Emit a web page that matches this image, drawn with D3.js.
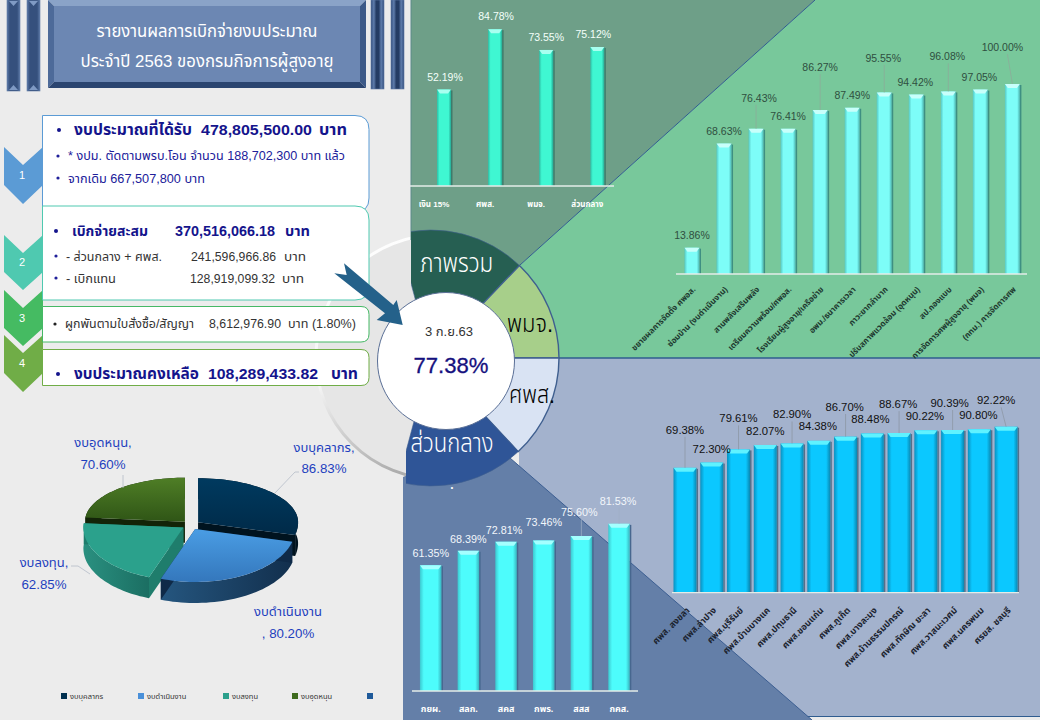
<!DOCTYPE html>
<html><head><meta charset="utf-8">
<script src="https://cdn.jsdelivr.net/npm/d3@7/dist/d3.min.js"></script>
<style>html,body{margin:0;padding:0;background:#ececec;overflow:hidden}svg{display:block}
text{font-family:"Liberation Sans","Noto Sans Thai","Noto Sans",sans-serif}</style>
</head><body><svg id="c" width="1040" height="720"></svg>
<script>
// ---------- data ----------
const titleLines = ["รายงานผลการเบิกจ่ายงบประมาณ","ประจำปี 2563 ของกรมกิจการผู้สูงอายุ"];
const overviewCats = ["เงิน 15%","ศพส.","พมจ.","ส่วนกลาง"];
const overviewVals = [52.19,84.78,73.55,75.12];
const provCats = ["ขยายผลการจัดตั้ง ศพอส.","ซ่อมบ้าน (งบดำเนินงาน)","สานพลังเสริมพลัง","เตรียมความพร้อม/ศพอส.","โรงเรียนผู้สูงอายุ/เครือข่าย","อพม./ธนาคารเวลา","ภาวะยากลำบาก","ปรับสภาพแวดล้อม (อุดหนุน)","สป.กองแบบ","การจัดการศพผู้สูงอายุ (พมจ)","(กทม.) การจัดการศพ"];
const provVals = [13.86,68.63,76.43,76.41,86.27,87.49,95.55,94.42,96.08,97.05,100.00];
const centerCats = ["ศพส. สงขลา","ศพส.ลำปาง","ศพส.บุรีรัมย์","ศพส.บ้านบางแค","ศพส.ปทุมธานี","ศพส.ขอนแก่น","ศพส.ภูเก็ต","ศพส.บางละมุง","ศพส.บ้านธรรมปกรณ์","ศพส.ทักษิณ ยะลา","ศพส.วาสนะเวศม์","ศพส.นครพนม","ศรยส. ชลบุรี"];
const centerVals = [69.38,72.30,79.61,82.07,82.90,84.38,86.70,88.48,88.67,90.22,90.39,90.80,92.22];
const deptCats = ["กยผ.","สลก.","สคส","กพร.","สสส","กคส."];
const deptVals = [61.35,68.39,72.81,73.46,75.60,81.53];
const pieCats = ["งบบุคลากร","งบดำเนินงาน","งบลงทุน","งบอุดหนุน"];
const pieVals = [86.83,80.20,62.85,70.60];
const wheelCats = ["ภาพรวม","พมจ.","ศพส.","ส่วนกลาง"];
const wheelDate = "3 ก.ย.63";
const wheelTotal = "77.38%";

// ---------- layout / style ----------
const svg = d3.select("#c");
const defs = svg.append("defs");
const fmt = v => v.toFixed(2)+"%";
function grad(id,stops,x2=1,y2=0){
  const g=defs.append("linearGradient").attr("id",id).attr("x1",0).attr("y1",0).attr("x2",x2).attr("y2",y2);
  stops.forEach(s=>g.append("stop").attr("offset",s[0]).attr("stop-color",s[1]));
  return `url(#${id})`;
}
// text fitted to a measured width
function T(p,s,x,y,o={}){
  const t=p.append("text").attr("x",x).attr("y",y).text(s)
    .attr("font-size",o.size||12).attr("fill",o.fill||"#000").attr("text-anchor",o.anchor||"start");
  if(o.weight)t.attr("font-weight",o.weight);
  if(o.width)t.attr("textLength",o.width).attr("lengthAdjust","spacingAndGlyphs");
  return t;
}
const bg = svg.append("g");
bg.append("rect").attr("width",1040).attr("height",720).attr("fill","#ececec");

// ring behind wheel
const ringStroke = grad("ringS",[[0,"#ffffff"],[.6,"#f4f4f4"],[1,"#adadad"]],.2,1);
bg.append("circle").attr("cx",438).attr("cy",357).attr("r",122).attr("fill","#e6e6e6").attr("stroke",ringStroke).attr("stroke-width",3);

// panels
const poly=(g,pts,fill,stroke)=>g.append("polygon").attr("points",pts.join(" ")).attr("fill",fill).attr("stroke",stroke||"none");
poly(bg,[[519,358],[1040,358],[1040,716],[519,716]],"#a3b2cd");
bg.append("line").attr("x1",519).attr("x2",1040).attr("y1",716.5).attr("y2",716.5).attr("stroke","#2f5c8f");
poly(bg,[[403,477],[450,458],[510,458],[812,720],[403,720]],"#647fa8");
bg.append("line").attr("x1",510).attr("y1",458).attr("x2",812).attr("y2",720).attr("stroke","#3d5f92");
poly(bg,[[520,265],[815,0],[1040,0],[1040,358],[540,358]],"#78c89b");
poly(bg,[[411,0],[815,0],[520,265],[411,265]],"#6e9f88");
bg.append("line").attr("x1",815).attr("y1",0).attr("x2",520).attr("y2",265).attr("stroke","#2f5c8f");
bg.append("line").attr("x1",540).attr("x2",1040).attr("y1",358).attr("y2",358).attr("stroke","#2f5c8f").attr("stroke-width",1.4);
bg.append("line").attr("x1",411).attr("x2",411).attr("y1",0).attr("y2",240).attr("stroke","#5b8a8a");

// title block
const colL = grad("colL",[[0,"#5d7aa8"],[.22,"#35507d"],[.78,"#35507d"],[1,"#5d7aa8"]]);
const colR = grad("colR",[[0,"#34507e"],[.22,"#5f7dac"],[.4,"#243c64"],[.6,"#243c64"],[.78,"#5f7dac"],[1,"#34507e"]]);
[[7,91,colL],[27,91,colL],[371,89,colR],[391,89,colR]].forEach(c=>{
  bg.append("rect").attr("x",c[0]).attr("y",0).attr("width",13).attr("height",c[1]).attr("fill",c[2]).attr("stroke","#5f7ba6").attr("stroke-width",.6);
  if(c[2]===colL){
    poly(bg,[[c[0]+2,1],[c[0]+11,1],[c[0]+6.5,6]],"#7f9ac4");
    poly(bg,[[c[0]+2,90],[c[0]+11,90],[c[0]+6.5,85]],"#7f9ac4");
  }
});
const tb = bg.append("g");
poly(tb,[[48,0],[366,0],[360,6],[54,6]],"#8aa3c8");
poly(tb,[[48,0],[54,6],[54,82],[48,88]],"#4d6a99");
poly(tb,[[366,0],[360,6],[360,82],[366,88]],"#3d5a88");
poly(tb,[[48,88],[54,82],[360,82],[366,88]],"#2b4570");
tb.append("rect").attr("x",54).attr("y",6).attr("width",306).attr("height",76).attr("fill","#6c87b3");
T(tb,titleLines[0],207,37,{size:17,fill:"#fff",anchor:"middle",width:221});
T(tb,titleLines[1],207,67,{size:17,fill:"#fff",anchor:"middle",width:253});

// chevrons and boxes
const chev=[["1","#5b9bd5",147,165,185,204,175],["2","#4fc9b0",235,253,272,290,262],["3","#45bb62",290,308,328,346,318],["4","#70ad47",335,353,373,392,363]];
chev.forEach(c=>{
  poly(bg,[[4,c[2]],[23,c[3]],[43,c[2]],[43,c[4]],[23,c[5]],[4,c[4]]],c[1]);
  T(bg,c[0],22,c[6]+4,{size:11,fill:"#fff",anchor:"middle"});
});
function box(y0,y1,stroke,r){
  bg.append("path").attr("d",`M42.5,${y0}H${369-r}Q369,${y0} 369,${y0+r}V${y1-r}Q369,${y1} ${369-r},${y1}H42.5Z`)
    .attr("fill","#fff").attr("stroke",stroke).attr("stroke-width",1);
}
box(115.5,212,"#5b9bd5",14); box(206,300,"#4fc9b0",14); box(306.5,342,"#45b865",8); box(349.5,385.5,"#70ad47",8);
const navy="#14148c", soft="#20209a", grey="#333";
const bullet=(x,y,f,r)=>bg.append("circle").attr("cx",x).attr("cy",y).attr("r",r||1.6).attr("fill",f);
bullet(59,130,navy,2);
T(bg,"งบประมาณที่ได้รับ",74,135,{size:15,fill:navy,weight:"bold",width:118});
T(bg,"478,805,500.00",201,135,{size:15,fill:navy,weight:"bold",width:111});
T(bg,"บาท",319,135,{size:15,fill:navy,weight:"bold",width:28});
bullet(58,156,soft); T(bg,"* งปม. ตัดตามพรบ.โอน จำนวน 188,702,300 บาท แล้ว",68,160,{size:12,fill:soft,width:277});
bullet(58,178,soft); T(bg,"จากเดิม 667,507,800 บาท",68,183,{size:12,fill:soft,width:137});
bullet(56,231,navy,2);
T(bg,"เบิกจ่ายสะสม",72,236,{size:14,fill:navy,weight:"bold",width:76});
T(bg,"370,516,066.18",175,236,{size:14,fill:navy,weight:"bold",width:100});
T(bg,"บาท",285,236,{size:14,fill:navy,weight:"bold",width:25});
bullet(56,256,soft); T(bg,"- ส่วนกลาง + ศพส.",66,261,{size:12,fill:grey,width:96});
T(bg,"241,596,966.86",191,261,{size:12,fill:grey,width:85}); T(bg,"บาท",284,261,{size:12,fill:grey,width:22});
bullet(56,278,soft); T(bg,"- เบิกแทน",66,283,{size:12,fill:grey,width:50});
T(bg,"128,919,099.32",190,283,{size:12,fill:grey,width:85}); T(bg,"บาท",282,283,{size:12,fill:grey,width:22});
bullet(55,324,"#222"); T(bg,"ผูกพันตามใบสั่งซื้อ/สัญญา",65,328,{size:12,fill:grey,width:129});
T(bg,"8,612,976.90",209,328,{size:12,fill:grey,width:72}); T(bg,"บาท (1.80%)",288,328,{size:12,fill:grey,width:68});
bullet(58,374,navy,2);
T(bg,"งบประมาณคงเหลือ",74,379,{size:15,fill:navy,weight:"bold",width:125});
T(bg,"108,289,433.82",208,379,{size:15,fill:navy,weight:"bold",width:110});
T(bg,"บาท",331,379,{size:15,fill:navy,weight:"bold",width:27});

// ---------- bar charts ----------
function barChart(o){
  const g=svg.append("g");
  const n=o.cats.length;
  const x=d3.scaleBand().domain(o.cats).range([o.c0-o.step/2,o.c0+o.step*(n-.5)])
    .paddingInner(1-o.w/o.step).paddingOuter((1-o.w/o.step)/2);
  const y=d3.scaleLinear().domain([0,100]).range([o.base,o.base-o.h]);
  const data=o.cats.map((c,i)=>({c,v:o.vals[i],i}));
  const fill=grad(o.id,[[0,o.edge],[.18,o.body],[.82,o.body],[1,o.edge2]]);
  const bars=g.selectAll("g.b").data(data).join("g");
  bars.append("rect").attr("x",d=>x(d.c)+x.bandwidth()).attr("y",d=>y(d.v)+1).attr("width",1.5)
    .attr("height",d=>o.base-y(d.v)-1).attr("fill",o.shadow);
  bars.append("rect").attr("x",d=>x(d.c)).attr("y",d=>y(d.v)).attr("width",x.bandwidth())
    .attr("height",d=>o.base-y(d.v)).attr("fill",fill);
  bars.append("polygon").attr("points",d=>{const a=x(d.c),b=a+x.bandwidth(),t=y(d.v);
    return [[a,t],[b,t],[b-3,t+4],[a+3,t+4]].join(" ")}).attr("fill",o.cap);
  // leader lines
  g.selectAll("line.l").data(data.filter(d=>o.lift[d.i]>18)).join("line")
    .attr("x1",d=>x(d.c)+x.bandwidth()/2).attr("y1",d=>y(d.v))
    .attr("x2",d=>x(d.c)+x.bandwidth()/2+(o.dx[d.i]<-5?o.dx[d.i]*.5:0)).attr("y2",d=>y(d.v)-o.lift[d.i]+7)
    .attr("stroke",o.leader).attr("stroke-width",.7);
  // values
  g.selectAll("text.v").data(data).join("text").attr("class","v")
    .attr("x",d=>x(d.c)+x.bandwidth()/2+o.dx[d.i]).attr("y",d=>y(d.v)-o.lift[d.i]+4)
    .attr("text-anchor","middle").attr("font-size",o.vsize).attr("fill",o.vfill).text(d=>fmt(d.v));
  // axis
  const ax=g.append("g").attr("transform",`translate(0,${o.base})`)
    .call(d3.axisBottom(x).tickSize(0).tickPadding(o.pad));
  ax.select(".domain").remove();
  g.append("line").attr("x1",o.a0).attr("x2",o.a1).attr("y1",o.base).attr("y2",o.base).attr("stroke","#e4ece8").attr("stroke-width",1.3);
  const tl=ax.selectAll("text").attr("font-size",o.csize).attr("fill",o.cfill).attr("font-weight",o.cweight||"normal")
    .style("font-family",'"Liberation Sans","Noto Sans Thai","Noto Sans",sans-serif');
  if(o.rot){
    tl.attr("text-anchor","end").attr("dy",".35em").attr("y",0)
      .attr("transform",`translate(${o.rotDx},${o.rotDy}) rotate(-45)`);
  } else if(o.catDx){
    tl.attr("dx",o.catDx);
  }
  return g;
}
barChart({id:"g1",cats:overviewCats,vals:overviewVals,c0:444,step:51.1,w:14,base:186,h:185,a0:410,a1:614,
  edge:"#2dbfa6",edge2:"#25a893",body:"#3ff7d2",cap:"#a8fff0",shadow:"#3f7a6a",leader:"#9db",
  lift:[12,13,13,13],dx:[1,1,0,-4],vsize:10.5,vfill:"#f4fffa",pad:15,csize:8,cfill:"#fff",cweight:"bold",catDx:-10});
barChart({id:"g2",cats:provCats,vals:provVals,c0:692,step:32.04,w:15,base:274,h:190,a0:676,a1:1027,
  edge:"#55c8c4",edge2:"#4ab3b0",body:"#7dfdf8",cap:"#c8fffb",shadow:"#3e8f82",leader:"#8fa89a",
  lift:[13,13,31,13,43,13,34.5,13,35,13,37],dx:[0,0,3,0,0,0,-1,-1,-1,-1,-10],vsize:10.5,vfill:"#2f4f40",
  pad:0,csize:8.1,cfill:"#203a30",cweight:"bold",rot:true,rotDx:2,rotDy:14});
barChart({id:"g3",cats:centerCats,vals:centerVals,c0:685,step:26.76,w:23,base:592.7,h:180,a0:672,a1:1019,
  edge:"#0a90c0",edge2:"#0a86b0",body:"#0bc8ff",cap:"#5ff2ff",shadow:"#54708a",leader:"#8a93a0",
  lift:[38,14,31,14,29,14.5,29.6,14,29,14,27,14,26.4],dx:[0,0,0,0,0,-1,-1,-2,-1,-1,-3,-1,-10],vsize:11.3,vfill:"#111",
  pad:0,csize:9,cfill:"#1c2430",cweight:"bold",rot:true,rotDx:3,rotDy:16});
barChart({id:"g4",cats:deptCats,vals:deptVals,c0:430.7,step:37.67,w:21.5,base:691,h:205,a0:412,a1:638,
  edge:"#3cc8d0",edge2:"#36b4bf",body:"#4dfcfc",cap:"#a4ffff",shadow:"#47678f",leader:"#9fb0c6",
  lift:[12,11.5,11.7,18,24,23],dx:[0,0,-2,0,-2,-1],vsize:10.8,vfill:"#f2f6fb",pad:15,csize:9,cfill:"#fff",cweight:"bold"});

// ---------- wheel ----------
const wheel=svg.append("g");
const rad=d=>d*Math.PI/180;
const wheelColors=["#265f52","#a7cf8a","#d9e3f3","#2f5597"];
const wheelAngles=[[-15,43.7],[43.7,90],[90,137],[137,195]];
const clipX=[411,0,0,406];
wheelCats.forEach((c,i)=>{
  const id="wc"+i;
  defs.append("clipPath").attr("id",id).append("rect").attr("x",clipX[i]).attr("y",0).attr("width",1040).attr("height",720);
  const arc=d3.arc().innerRadius(40).outerRadius(128).startAngle(rad(wheelAngles[i][0])).endAngle(rad(wheelAngles[i][1]));
  wheel.append("g").attr("clip-path",`url(#${id})`).append("path").attr("d",arc()).attr("transform","translate(431,358)")
    .attr("fill",wheelColors[i]).attr("stroke","#3f5f8f").attr("stroke-width",i==1||i==2?1.4:.6);
});
wheel.append("circle").attr("cx",446).attr("cy",361).attr("r",68.5).attr("fill","#fff").attr("stroke","#5a6f96").attr("stroke-width",1);
T(wheel,wheelCats[0],456.7,272,{size:26,fill:"#fff",anchor:"middle",width:73,weight:300});
T(wheel,wheelCats[1],530,332,{size:24,fill:"#000",anchor:"middle",width:46,weight:300});
T(wheel,wheelCats[2],532,403,{size:24,fill:"#000",anchor:"middle",width:46,weight:300});
T(wheel,wheelCats[3],452,452,{size:26,fill:"#fff",anchor:"middle",width:83,weight:300});
T(wheel,wheelDate,449,336,{size:13,fill:"#333",anchor:"middle"});
T(wheel,wheelTotal,451,373,{size:22,fill:"#15107e",anchor:"middle",width:75}).attr("stroke","#15107e").attr("stroke-width",.3);
T(wheel,".",452,489,{size:12,fill:"#fff",anchor:"middle",weight:"bold"});
poly(wheel,[[344,263.3],[346.7,275],[334.3,273.3],[385,313.3],[376.7,320],[402.7,325],[396.7,300],[393.3,305]],"#24618a");

// ---------- 3D pie ----------
const pg=svg.append("g");
const pieColors=[
 {top:grad("p1",[[0,"#003a5f"],[1,"#002a48"]],0,1),wall:"#00131f",cut:"#00131f"},
 {top:grad("p2",[[0,"#4a9de4"],[1,"#3477bc"]],0,1),wall:grad("p2w",[[0,"#25567f"],[1,"#122f4d"]]),cut:"#0f2a48"},
 {top:"#2ba18c",wall:grad("p3w",[[0,"#2a9080"],[1,"#1b6e62"]]),cut:"#1f7d6c"},
 {top:grad("p4",[[0,"#4f7e26"],[1,"#2f5516"]],0,1),wall:"#132408",cut:"#132408"}];
const CX=191,CY=525,RX=100,RB=44,RF=53,DEPTH=21,EXPL=9;
const slices=d3.pie().sort(null).startAngle(0).endAngle(2*Math.PI).value(d=>d)(pieVals);
const proj=(a,r)=>[Math.sin(a)*RX*r,-Math.cos(a)*(Math.cos(a)>0?RB:RF)*r];
const lineG=d3.line();
const drawSlice=i=>{
  const s=slices[i],mid=(s.startAngle+s.endAngle)/2;
  const ox=CX+Math.sin(mid)*EXPL,oy=CY-Math.cos(mid)*EXPL*.5;
  const rim=d3.range(0,41).map(k=>s.startAngle+(s.endAngle-s.startAngle)*k/40).map(a=>proj(a,1));
  const g=pg.append("g").attr("transform",`translate(${ox},${oy})`);
  const down=p=>[p[0],p[1]+DEPTH];
  g.append("path").attr("d",lineG(rim.concat(rim.map(down).reverse()))+"Z").attr("fill",pieColors[i].wall);
  [rim[0],rim[40]].forEach(p=>g.append("path").attr("d",lineG([[0,0],p,down(p),[0,DEPTH]])+"Z").attr("fill",pieColors[i].cut));
  g.append("path").attr("d",lineG([[0,0]].concat(rim))+"Z").attr("fill",pieColors[i].top);
};
[3,0,2,1].forEach(drawSlice);
const blue="#1e3fbe";
[["งบบุคลากร,",324,452,"86.83%",473],["งบอุดหนุน,",103,447,"70.60%",469],["งบลงทุน,",44,567,"62.85%",589],["งบดำเนินงาน",288,616,", 80.20%",638]]
 .forEach(l=>{T(pg,l[0],l[1],l[2],{size:13,fill:blue,anchor:"middle"});T(pg,l[3],l[1],l[4],{size:13.3,fill:blue,anchor:"middle"});});
const leadG=d3.line();
[[[275,493],[295,472],[299,472]],[[123,488],[123,475]],[[90,574],[78,566],[71,566]]].forEach(l=>
  pg.append("path").attr("d",leadG(l)).attr("fill","none").attr("stroke","#b5bcc8").attr("stroke-width",.8));

// legend
const legX=[61,138,223,292,367], legC=["#00304f","#4a90d9","#2ba08c","#3e6b1e","#1f5a9a"];
legC.forEach((c,i)=>{
  pg.append("rect").attr("x",legX[i]).attr("y",693).attr("width",6).attr("height",6).attr("fill",c);
  if(pieCats[i])T(pg,pieCats[i],legX[i]+9,699,{size:7.5,fill:"#333"});
});
</script></body></html>
